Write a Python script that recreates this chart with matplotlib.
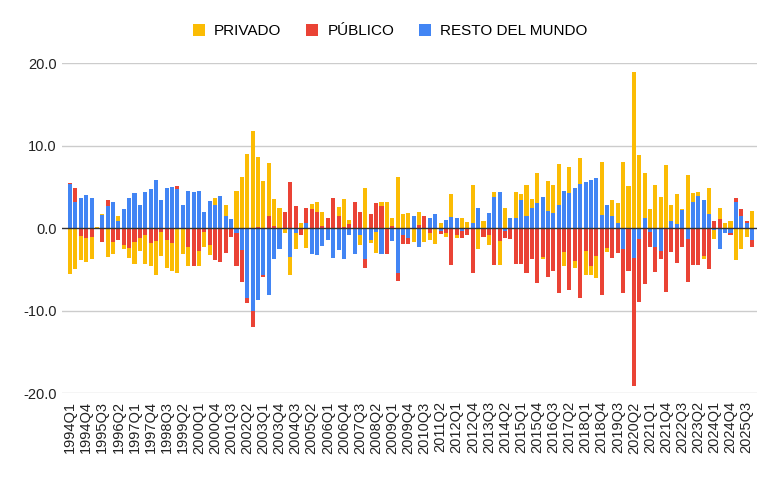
import numpy as np
import matplotlib.pyplot as plt
from matplotlib.patches import Patch

# quarterly data 1994Q1 .. 2025Q4
years = range(1994, 2026)
quarters = ['{}Q{}'.format(y, q) for y in years for q in range(1, 5)]

privado = [-5.6, -5.0, -2.9, -2.9, -2.6, 0.05, 0.15, -3.5, -1.5, 0.55,
           -0.5, -1.2, -2.6, -1.6, -3.5, -2.8, -4.1, -2.9, -3.4, -3.3,
           -5.4, -3.0, -2.4, 0.0, -1.8, -1.75, -1.2, 0.9, 0.0, 1.3,
           0.0, 4.5, 6.15, 9.0, 11.8, 8.5, 5.7, 6.4, 3.25, 2.45,
           -0.5, -2.2, -2.0, 0.55, -2.45, 0.55, 1.2, 1.7, 0.0, 0.0,
           1.0, 3.4, 0.45, -0.1, -1.2, 4.85, -0.35, -2.6, 0.5, 3.1,
           1.0, 6.2, 1.65, 1.8, -1.65, 1.5, -1.65, -0.9, -1.9, 0.55,
           -0.4, 2.75, -0.3, 1.25, 0.75, 4.65, -2.55, 0.9, -1.1, 0.65,
           -2.9, 2.45, 0.0, 3.1, 0.7, 3.75, 1.1, 3.7, -0.2, 3.7,
           3.4, 4.95, -1.75, 3.2, -0.9, 3.2, -2.9, -1.1, -2.6, 6.4,
           -0.5, 2.0, 2.35, 7.95, 5.15, 18.9, 8.9, 5.4, 2.3, 5.25,
           3.75, 7.65, 1.9, 3.65, 0.1, 6.4, 1.1, 0.5, -0.3, 3.2,
           -1.05, 1.35, 0.55, 0.85, -3.9, -2.55, -1.05, 2.1]

publico = [0.2, 1.7, -1.0, -1.2, -1.1, -0.1, -1.7, 0.7, -1.7, -1.4,
           -2.0, -2.4, -1.7, -1.2, -0.8, -1.8, -1.6, -0.5, -1.4, -1.85,
           0.45, -0.1, -2.25, -4.55, -2.75, -0.5, -2.1, -3.9, -4.15, -3.0,
           -1.1, -4.0, -3.85, -0.6, -1.9, 0.15, -0.2, 1.5, 0.3, 0.0,
           2.0, 5.6, 2.65, -0.8, 1.9, 2.35, 1.9, 0.3, 1.25, 3.6,
           1.5, 0.15, 0.5, 3.2, 1.9, -1.1, 1.7, 3.0, 2.65, -3.1,
           0.25, -0.9, -1.0, -0.7, 0.0, 0.4, 1.5, -0.55, 0.0, -0.4,
           -0.65, -4.5, -0.9, -0.9, -0.9, -5.5, 0.0, -1.1, -0.9, -4.5,
           -1.55, -0.9, -1.3, -4.4, -4.4, -5.5, -3.7, -6.7, -3.5, -5.9,
           -5.25, -7.9, -2.9, -7.5, -4.0, -8.5, -2.8, -4.65, -3.4, -8.1,
           -2.4, -3.6, -3.0, -5.35, -5.1, -15.5, -7.7, -6.8, -1.8, -3.0,
           -0.9, -7.8, -2.9, -4.2, -2.25, -5.25, -4.5, -4.5, -3.4, -5.0,
           0.9, 1.05, 0.0, -0.3, 0.6, 0.95, 0.3, -0.9]

resto = [5.3, 3.2, 3.7, 4.0, 3.7, 0.05, 1.6, 2.7, 3.1, 0.85,
         2.3, 3.6, 4.3, 2.8, 4.4, 4.7, 5.8, 3.4, 4.9, 5.0,
         4.7, 2.75, 4.5, 4.35, 4.5, 1.95, 3.3, 2.8, 3.9, 1.45,
         1.05, -0.65, -2.65, -8.5, -10.1, -8.7, -5.7, -8.1, -3.7, -2.5,
         -0.1, -3.5, -0.6, 0.0, 0.55, -3.1, -3.3, -2.2, -1.4, -3.6,
         -2.65, -3.7, -0.9, -3.1, -0.8, -3.8, -1.5, -0.45, -3.1, 0.0,
         -1.55, -5.5, -0.9, -1.25, 1.5, -2.25, 0.0, 1.2, 1.7, -0.35,
         1.0, 1.37, 1.25, -0.3, 0.0, 0.6, 2.45, 0.0, 1.85, 3.75,
         4.4, -0.35, 1.25, 1.25, 3.45, 1.5, 2.45, 3.0, 3.8, 2.05,
         1.85, 2.85, 4.5, 4.25, 4.85, 5.35, 5.6, 5.8, 6.05, 1.55,
         2.85, 1.4, 0.65, -2.55, -0.1, -3.6, -1.3, 1.25, -0.5, -2.3,
         -2.8, 0.0, 0.85, 0.5, 2.15, -1.3, 3.2, 3.9, 3.4, 1.7,
         -0.25, -2.55, -0.65, -0.55, 3.1, 1.4, 0.55, -1.45]

series = ['PRIVADO', 'PÚBLICO', 'RESTO DEL MUNDO']
colors = {'PRIVADO': '#FBBC04', 'PÚBLICO': '#EA4335', 'RESTO DEL MUNDO': '#4285F4'}

plt.rcParams['font.family'] = ['Liberation Sans', 'DejaVu Sans']

fig = plt.figure(figsize=(7.8, 4.82), dpi=100)
ax = fig.add_axes([0.0795, 0.1846, 0.891, 0.6846])

x = np.arange(len(quarters))
pos_bottom = np.zeros(len(x))
neg_bottom = np.zeros(len(x))
# stacking goes outward from zero: resto, publico, privado
for name, vals in [('RESTO DEL MUNDO', resto), ('PÚBLICO', publico), ('PRIVADO', privado)]:
    v = np.array(vals)
    bottom = np.where(v >= 0, pos_bottom, neg_bottom)
    ax.bar(x, v, bottom=bottom, width=0.76, color=colors[name], linewidth=0, zorder=2)
    pos_bottom += np.clip(v, 0, None)
    neg_bottom += np.clip(v, None, 0)

# grid and baseline
for yv in [-20, -10, 10, 20]:
    ax.axhline(yv, color='#cccccc', lw=1, zorder=1)
ax.axhline(0, color='#333333', lw=1, zorder=3)

ax.set_ylim(-20, 20)
ax.set_xlim(-1.5, len(x) - 0.07)
ax.set_yticks([-20, -10, 0, 10, 20])
ax.set_yticklabels(['{:.1f}'.format(v) for v in [-20, -10, 0, 10, 20]], fontsize=10.5, color='#222222')
ax.set_xticks(x[::3])
ax.set_xticklabels(quarters[::3], rotation=90, fontsize=10.5, color='#222222')
ax.tick_params(axis='both', length=0)
ax.tick_params(axis='x', pad=6)
ax.tick_params(axis='y', pad=4)
for s in ax.spines.values():
    s.set_visible(False)

handles = [Patch(facecolor=colors[n], edgecolor='none', label=n) for n in series]
fig.legend(handles=handles, loc='center', bbox_to_anchor=(0.50, 0.935), ncol=3,
           frameon=False, fontsize=11, handlelength=0.8, handleheight=0.8,
           handletextpad=0.6, columnspacing=1.6)

fig.savefig('out.png', dpi=100)
